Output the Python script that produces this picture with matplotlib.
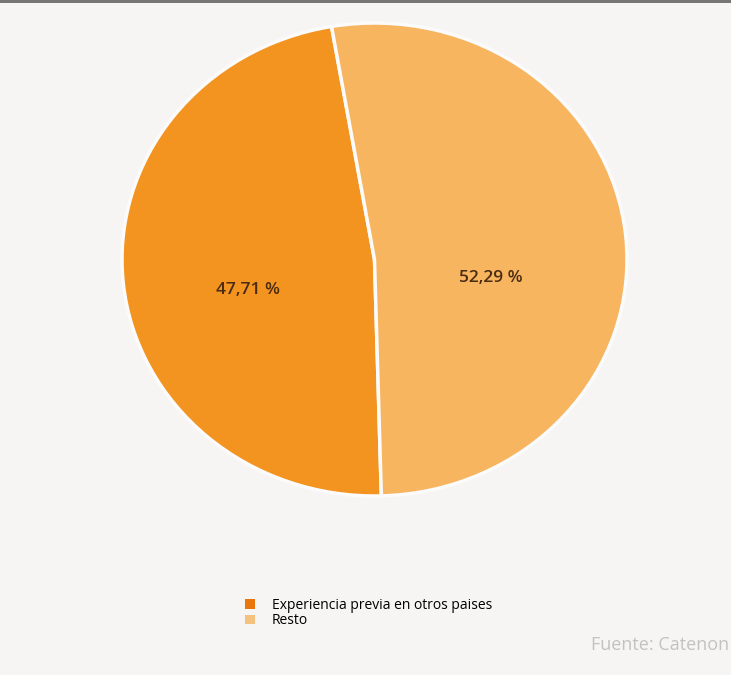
import matplotlib.pyplot as plt
from matplotlib.patches import Patch, Rectangle

# datos
labels = ['Experiencia previa en otros paises', 'Resto']
values = [47.71, 52.29]
slice_colors = ['#f39420', '#f8b560']
legend_colors = ['#e8760c', '#f4c27e']
source = 'Fuente: Catenon'

W, H = 731, 675
fig = plt.figure(figsize=(W / 100, H / 100), dpi=100)
fig.patch.set_facecolor('#f6f5f4')

# barra gris superior
fig.patches.append(Rectangle((0, 1 - 3 / H), 1, 3 / H, transform=fig.transFigure,
                             facecolor='#767676', edgecolor='none'))

# ejes ajustados a la elipse de la tarta
ax = fig.add_axes([122 / W, 1 - 496 / H, 505 / W, 473 / H])
ax.set_facecolor('none')

wedges, texts, autotexts = ax.pie(
    values, colors=slice_colors, startangle=99.8, counterclock=True,
    autopct=lambda p: f'{p:.2f} %'.replace('.', ','), pctdistance=0.5,
    wedgeprops=dict(edgecolor='#fbfbfb', linewidth=2.5),
    textprops=dict(fontsize=12.5, color='#4a2c12', family='Open Sans',
                   fontweight='semibold'))
ax.set_aspect('auto')
ax.set_xlim(-1.0, 1.0)
ax.set_ylim(-1.0, 1.0)
ax.axis('off')

# posición de las etiquetas
autotexts[0].set_position((-0.50, -0.13))
autotexts[1].set_position((0.46, -0.08))

# leyenda
handles = [Patch(facecolor=c, edgecolor='none', label=l) for c, l in zip(legend_colors, labels)]
fig.legend(handles=handles, loc='upper left', bbox_to_anchor=(234 / W, 1 - 587 / H),
           frameon=False, handlelength=0.7, handleheight=0.7,
           handletextpad=1.2, labelspacing=0.02, borderpad=0.3,
           prop=dict(family='Open Sans', size=10))

fig.text(729 / W, 1 - 645 / H, source, ha='right', va='center',
         fontsize=13, color='#c2c2c2', family='Open Sans')

fig.savefig('out.png', dpi=100, facecolor=fig.get_facecolor())
